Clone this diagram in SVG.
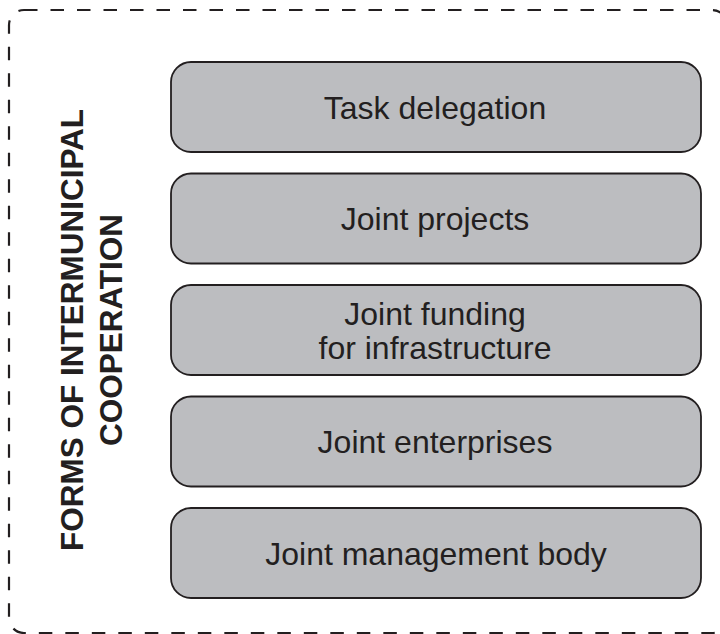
<svg xmlns="http://www.w3.org/2000/svg" width="720" height="634" viewBox="0 0 720 634">
<style>
.frame{fill:none;stroke:#231f20;stroke-width:2.2;stroke-dasharray:13.5 13}
.box{fill:#bcbdc0;stroke:#231f20;stroke-width:1.8}
.lbl{font-family:"Liberation Sans",Arial,sans-serif;font-size:32px;fill:#231f20;text-anchor:middle}
.title{font-family:"Liberation Sans",Arial,sans-serif;font-size:31.5px;font-weight:bold;fill:#231f20;text-anchor:middle}
</style>
<rect class="frame" x="9" y="10" width="718" height="623" rx="15"/>
<g id="title">
<text class="title" transform="translate(83,330) rotate(-90)">FORMS OF INTERMUNICIPAL</text>
<text class="title" transform="translate(122,330) rotate(-90)">COOPERATION</text>
</g>
<g id="task-delegation">
<rect class="box" x="171" y="62" width="530" height="90" rx="20"/>
<text class="lbl" x="435" y="118.5">Task delegation</text>
</g>
<g id="joint-projects">
<rect class="box" x="171" y="173.5" width="530" height="90" rx="20"/>
<text class="lbl" x="435" y="230">Joint projects</text>
</g>
<g id="joint-funding">
<rect class="box" x="171" y="285" width="530" height="90" rx="20"/>
<text class="lbl" x="435" y="325">Joint funding</text>
<text class="lbl" x="435" y="359">for infrastructure</text>
</g>
<g id="joint-enterprises">
<rect class="box" x="171" y="396.5" width="530" height="90" rx="20"/>
<text class="lbl" x="435" y="453">Joint enterprises</text>
</g>
<g id="joint-management-body">
<rect class="box" x="171" y="508" width="530" height="90" rx="20"/>
<text class="lbl" x="436" y="564.5">Joint management body</text>
</g>
<g id="connectors"></g>
</svg>
